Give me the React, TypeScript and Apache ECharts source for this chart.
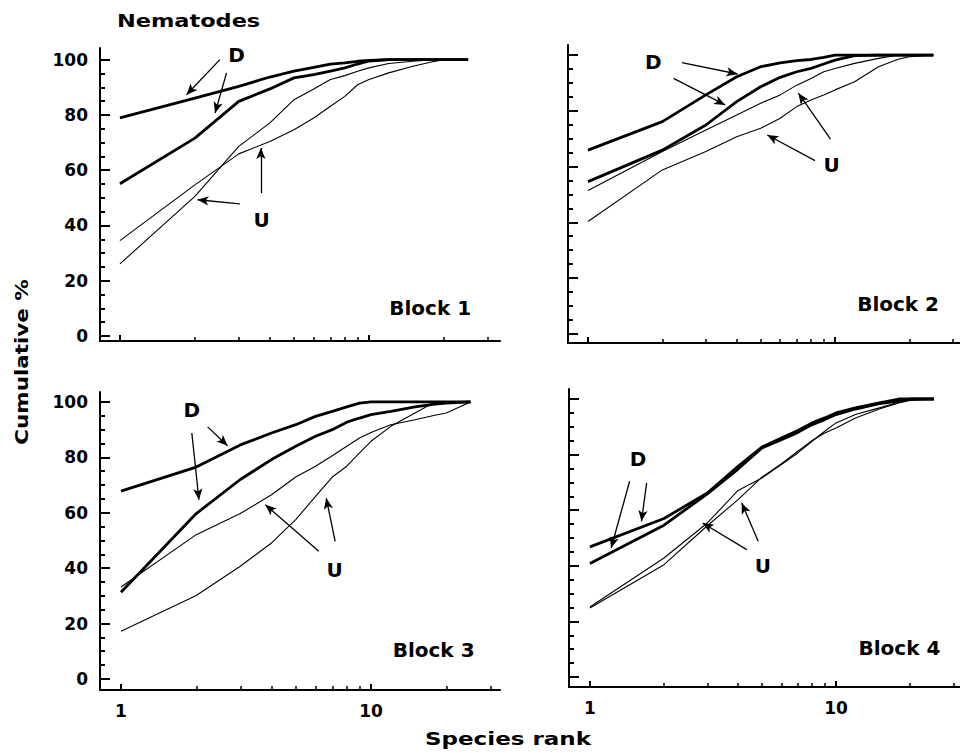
import React, { useEffect, useRef } from "react";
import * as echarts from "echarts";

// ---------- DATA ----------
const RANKS = [1, 2, 3, 4, 5, 6, 7, 8, 9, 10, 12, 15, 18, 20, 25];

// Block 1
const b1D1 = [78.9, 86.1, 90.3, 93.7, 95.8, 97.2, 98.4, 98.8, 99.4, 99.7, 100, 100, 100, 100, 100];
const b1D2 = [55.1, 71.6, 84.9, 89.4, 93.4, 94.6, 95.8, 97.0, 98.4, 99.5, 100, 100, 100, 100, 100];
const b1U1 = [34.5, 54.7, 65.9, 70.4, 74.6, 78.9, 83.1, 86.7, 90.9, 92.8, 95.2, 97.6, 99.2, 100, 100];
const b1U2 = [26.1, 50.5, 68.6, 77.1, 85.5, 89.4, 92.8, 94.2, 95.8, 97.0, 98.6, 99.4, 100, 100, 100];

// Block 2
const b2D1 = [65.9, 76.1, 85.7, 92.2, 95.8, 97.2, 98.0, 98.4, 99.2, 100, 100, 100, 100, 100, 100];
const b2D2 = [54.6, 65.9, 74.9, 83.3, 88.6, 92.0, 94.0, 95.2, 96.8, 98.2, 99.8, 100, 100, 100, 100];
const b2U1 = [51.4, 65.4, 73.1, 78.5, 82.7, 85.7, 89.2, 91.6, 94.0, 95.2, 97.0, 98.8, 100, 100, 100];
const b2U2 = [40.3, 58.8, 65.4, 70.7, 73.7, 77.3, 81.5, 83.9, 85.7, 87.5, 90.4, 95.8, 98.5, 99.4, 100];

// Block 3
const b3D1 = [67.8, 76.5, 84.5, 88.8, 91.8, 94.8, 96.6, 98.2, 99.6, 100, 100, 100, 100, 100, 100];
const b3D2 = [31.3, 59.7, 72.0, 79.2, 84.0, 87.6, 90.0, 92.7, 94.2, 95.4, 96.6, 98.2, 99.2, 99.6, 100];
const b3U1 = [33.2, 52.1, 59.7, 66.5, 72.9, 76.8, 80.6, 84.0, 87.0, 89.0, 91.8, 93.6, 95.2, 96.0, 100];
const b3U2 = [17.2, 30.1, 40.7, 49.1, 57.5, 65.9, 72.9, 76.8, 81.6, 85.8, 91.2, 96.0, 100, 100, 100];

// Block 4
const b4D1 = [46.8, 57.0, 66.2, 75.8, 82.7, 86.0, 88.7, 91.4, 93.2, 95.0, 96.8, 98.6, 100, 100, 100];
const b4D2 = [40.8, 54.6, 65.9, 74.8, 82.4, 85.4, 88.0, 90.8, 92.6, 94.4, 96.4, 98.3, 99.2, 100, 100];
const b4U1 = [25.2, 42.8, 55.4, 67.1, 71.6, 76.4, 80.6, 84.8, 88.4, 91.4, 94.4, 96.8, 98.8, 99.8, 100];
const b4U2 = [24.8, 40.4, 54.4, 63.8, 71.9, 76.7, 81.2, 85.1, 87.8, 89.6, 93.2, 96.4, 98.6, 99.5, 100];

// Tick values
const X_MAJOR_TICKS = [1, 10];
const X_MINOR_TICKS = [2, 3, 4, 5, 6, 7, 8, 9, 20, 30];
const Y_MAJOR_TICKS = [0, 20, 40, 60, 80, 100];
const Y_MINOR_TICKS = [5, 10, 15, 25, 30, 35, 45, 50, 55, 65, 70, 75, 85, 90, 95];

const BLOCK_NAMES = ["Block 1", "Block 2", "Block 3", "Block 4"];

// Annotation arrows: [tailRank, tailValue, tipRank, tipValue]
const b1Arrows = [[2.52, 100.0, 1.85, 87.3], [2.68, 95.2, 2.41, 80.7], [3.03, 47.8, 2.05, 49.3], [3.68, 51.7, 3.68, 68.0]];
const b2Arrows = [[2.40, 97.3, 4.03, 93.2], [2.22, 91.6, 3.59, 82.1], [9.59, 69.8, 7.11, 86.3], [8.30, 62.1, 5.32, 71.3]];
const b3Arrows = [[2.22, 91.0, 2.67, 84.2], [1.92, 88.8, 2.05, 64.7], [6.18, 46.1, 3.78, 62.9], [7.19, 49.7, 6.62, 65.3]];
const b4Arrows = [[1.45, 70.4, 1.22, 46.4], [1.70, 69.8, 1.62, 56.0], [4.34, 45.8, 2.87, 55.4], [4.83, 48.8, 4.14, 62.6]];

// Annotation labels: [text, rank, value]
const b1Labels: [string, number, number][] = [["D", 2.94, 101.8], ["U", 3.71, 42.0], ["Block 1", 17.6, 10.0]];
const b2Labels: [string, number, number][] = [["D", 1.84, 97.6], ["U", 9.70, 60.6], ["Block 2", 18.0, 10.8]];
const b3Labels: [string, number, number][] = [["D", 1.92, 97.2], ["U", 7.16, 39.5], ["Block 3", 17.8, 10.6]];
const b4Labels: [string, number, number][] = [["D", 1.57, 78.4], ["U", 5.04, 39.8], ["Block 4", 18.1, 10.4]];

// ---------- LAYOUT ----------
const PANELS = [
  { grid: { left: 100, top: 48, width: 400, height: 293 }, x: [-0.080, 1.526], y: [-1.8, 104.2], leftLabels: true, bottomLabels: false },
  { grid: { left: 568, top: 45, width: 392, height: 298 }, x: [-0.081, 1.506], y: [-3.3, 103.6], leftLabels: false, bottomLabels: false },
  { grid: { left: 100, top: 392, width: 400, height: 298 }, x: [-0.084, 1.516], y: [-4.0, 103.6], leftLabels: true, bottomLabels: true },
  { grid: { left: 569, top: 389, width: 391, height: 298 }, x: [-0.085, 1.504], y: [-3.6, 103.6], leftLabels: false, bottomLabels: true },
];

const FONT = "DejaVu Sans";
const lg = (r: number) => Math.log10(r);

export default function App() {
  const ref = useRef<HTMLDivElement>(null);

  useEffect(() => {
    if (!ref.current) return;
    const chart = echarts.init(ref.current, undefined, { renderer: "svg" });

    const curves = [
      [b1D1, b1D2, b1U1, b1U2],
      [b2D1, b2D2, b2U1, b2U2],
      [b3D1, b3D2, b3U1, b3U2],
      [b4D1, b4D2, b4U1, b4U2],
    ];
    const arrows = [b1Arrows, b2Arrows, b3Arrows, b4Arrows];
    const labels = [b1Labels, b2Labels, b3Labels, b4Labels];

    const grids: any[] = [];
    const xAxes: any[] = [];
    const yAxes: any[] = [];
    const series: any[] = [];

    PANELS.forEach((p, i) => {
      grids.push({ ...p.grid, containLabel: false, outerBoundsMode: "none" });
      // main x axis
      xAxes.push({
        type: "value",
        gridIndex: i,
        position: "bottom",
        min: p.x[0],
        max: p.x[1],
        axisLine: { show: true, onZero: false, lineStyle: { color: "#000", width: 2 } },
        axisTick: { show: true, inside: true, length: 6, customValues: X_MAJOR_TICKS.map(lg), lineStyle: { color: "#000", width: 2 } },
        axisLabel: {
          show: p.bottomLabels,
          customValues: X_MAJOR_TICKS.map(lg),
          formatter: (v: number) => String(Math.round(Math.pow(10, v))),
          color: "#000",
          fontFamily: FONT,
          fontWeight: "bold",
          fontSize: 17,
          margin: 12,
        },
        splitLine: { show: false },
      });
      // minor x ticks
      xAxes.push({
        type: "value",
        gridIndex: i,
        position: "bottom",
        min: p.x[0],
        max: p.x[1],
        axisLine: { show: false, onZero: false },
        axisTick: { show: true, inside: true, length: 4, customValues: X_MINOR_TICKS.map(lg), lineStyle: { color: "#000", width: 1.5 } },
        axisLabel: { show: false },
        splitLine: { show: false },
      });
      // main y axis
      yAxes.push({
        type: "value",
        gridIndex: i,
        position: "left",
        min: p.y[0],
        max: p.y[1],
        axisLine: { show: true, onZero: false, lineStyle: { color: "#000", width: 2 } },
        axisTick: { show: true, inside: true, length: 10, customValues: Y_MAJOR_TICKS, lineStyle: { color: "#000", width: 2 } },
        axisLabel: {
          show: p.leftLabels,
          customValues: Y_MAJOR_TICKS,
          color: "#000",
          fontFamily: FONT,
          fontWeight: "bold",
          fontSize: 17,
          margin: 12,
        },
        splitLine: { show: false },
      });
      // minor y ticks
      yAxes.push({
        type: "value",
        gridIndex: i,
        position: "left",
        min: p.y[0],
        max: p.y[1],
        axisLine: { show: false, onZero: false },
        axisTick: { show: true, inside: true, length: 5, customValues: Y_MINOR_TICKS, lineStyle: { color: "#000", width: 2 } },
        axisLabel: { show: false },
        splitLine: { show: false },
      });

      const names = ["D", "D", "U", "U"];
      curves[i].forEach((vals, k) => {
        const s: any = {
          type: "line",
          name: `${BLOCK_NAMES[i]} ${names[k]}${(k % 2) + 1}`,
          xAxisIndex: i * 2,
          yAxisIndex: i * 2,
          data: RANKS.map((r, j) => [lg(r), vals[j]]),
          symbol: "none",
          smooth: false,
          silent: true,
          lineStyle: { color: "#000", width: k < 2 ? 2.8 : 1.1 },
          z: k < 2 ? 3 : 2,
        };
        if (k === 0) {
          s.markLine = {
            silent: true,
            symbol: ["none", "arrow"],
            symbolSize: [7, 11],
            lineStyle: { color: "#000", width: 1.3, type: "solid" },
            label: { show: false },
            data: arrows[i].map((a) => [
              { coord: [lg(a[0]), a[1]] },
              { coord: [lg(a[2]), a[3]] },
            ]),
          };
          s.markPoint = {
            silent: true,
            symbol: "rect",
            symbolSize: 1,
            itemStyle: { color: "rgba(0,0,0,0)" },
            label: {
              show: true,
              position: "inside",
              formatter: (prm: any) => prm.name,
              color: "#000",
              fontFamily: FONT,
              fontWeight: "bold",
              fontSize: 20,
            },
            data: labels[i].map((l) => ({ name: l[0], coord: [lg(l[1]), l[2]] })),
          };
        }
        series.push(s);
      });
    });

    chart.setOption({
      animation: false,
      backgroundColor: "#fff",
      grid: grids,
      xAxis: xAxes,
      yAxis: yAxes,
      series,
      graphic: [
        {
          type: "text",
          x: 117,
          y: 21,
          scaleX: 1.32,
          style: { text: "Nematodes", fill: "#000", fontFamily: FONT, fontWeight: "bold", fontSize: 17, align: "left", verticalAlign: "middle" },
        },
        {
          type: "text",
          x: 22,
          y: 362,
          rotation: Math.PI / 2,
          scaleX: 1.26,
          style: { text: "Cumulative %", fill: "#000", fontFamily: FONT, fontWeight: "bold", fontSize: 17, align: "center", verticalAlign: "middle" },
        },
        {
          type: "text",
          x: 508,
          y: 739,
          scaleX: 1.28,
          style: { text: "Species rank", fill: "#000", fontFamily: FONT, fontWeight: "bold", fontSize: 18, align: "center", verticalAlign: "middle" },
        },
      ],
    });

    return () => chart.dispose();
  }, []);

  return <div ref={ref} style={{ position: "absolute", left: 0, top: 0, width: 960, height: 753 }} />;
}
